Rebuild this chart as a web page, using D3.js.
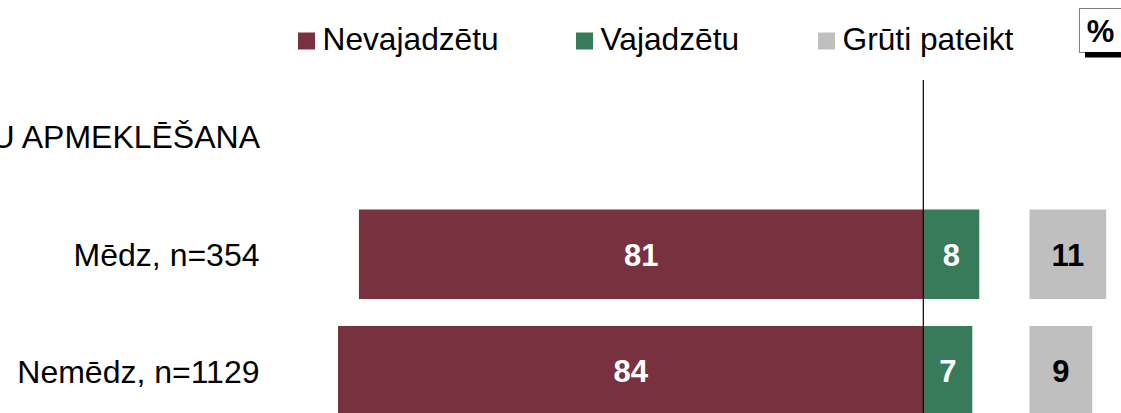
<!DOCTYPE html>
<html>
<head>
<meta charset="utf-8">
<script src="https://cdn.jsdelivr.net/npm/d3@7/dist/d3.min.js"></script>
<style>
  html, body { margin: 0; padding: 0; background: #fff; }
  svg { display: block; font-family: "Liberation Sans", Arial, sans-serif; }
</style>
</head>
<body>
<svg id="chart" width="1121" height="413"></svg>
<script>
// Survey answers by group (percent)
const groupTitle = "U APMEKLĒŠANA";
const categories = ["Mēdz, n=354", "Nemēdz, n=1129"];
const seriesNames = ["Nevajadzētu", "Vajadzētu", "Grūti pateikt"];
const nevajadzetu = [81, 84];
const vajadzetu = [8, 7];
const grutiPateikt = [11, 9];
const unitLabel = "%";

const colors = { neg: "#78323F", pos: "#387B5A", dk: "#BFBFBF" };

const svg = d3.select("#chart");
const W = 1121, H = 413;

// Horizontal scales: diverging part around the zero line, separate panel for "hard to say"
const pxPerUnit = 6.97;
const zeroX = 923.5;
const x = d3.scaleLinear().domain([-100, 100]).range([zeroX - 100 * pxPerUnit, zeroX + 100 * pxPerUnit]);
const dkStart = 1029.5;
const xDk = d3.scaleLinear().domain([0, 100]).range([dkStart, dkStart + 100 * pxPerUnit]);

// Vertical band scale for rows
const y = d3.scaleBand().domain(categories).range([209.5, 415.5]).paddingInner(0.2318).paddingOuter(0);

const rows = categories.map((c, i) => ({
  cat: c, neg: nevajadzetu[i], pos: vajadzetu[i], dk: grutiPateikt[i]
}));

// Bars
const g = svg.append("g");
g.selectAll("rect.neg").data(rows).join("rect")
  .attr("class", "neg")
  .attr("x", d => x(-d.neg)).attr("width", d => x(0) - x(-d.neg))
  .attr("y", d => y(d.cat)).attr("height", y.bandwidth())
  .attr("fill", colors.neg);
g.selectAll("rect.pos").data(rows).join("rect")
  .attr("class", "pos")
  .attr("x", x(0)).attr("width", d => x(d.pos) - x(0))
  .attr("y", d => y(d.cat)).attr("height", y.bandwidth())
  .attr("fill", colors.pos);
g.selectAll("rect.dk").data(rows).join("rect")
  .attr("class", "dk")
  .attr("x", xDk(0)).attr("width", d => xDk(d.dk) - xDk(0))
  .attr("y", d => y(d.cat)).attr("height", y.bandwidth())
  .attr("fill", colors.dk);

// Value labels
const labelDy = 11.5;
function addValues(cls, getX, getV, fill) {
  g.selectAll("text." + cls).data(rows).join("text")
    .attr("class", cls)
    .attr("x", getX).attr("y", d => y(d.cat) + y.bandwidth() / 2 + labelDy)
    .attr("text-anchor", "middle")
    .attr("font-size", "31px").attr("font-weight", "bold")
    .attr("fill", fill)
    .text(getV);
}
addValues("vneg", d => (x(-d.neg) + x(0)) / 2, d => d.neg, "#fff");
addValues("vpos", d => (x(0) + x(d.pos)) / 2, d => d.pos, "#fff");
addValues("vdk", d => (xDk(0) + xDk(d.dk)) / 2, d => d.dk, "#000");

// Zero line
svg.append("line")
  .attr("x1", x(0) - 0.2).attr("x2", x(0) - 0.2)
  .attr("y1", 80).attr("y2", H)
  .attr("stroke", "#000").attr("stroke-width", 1.2);

// Category labels
svg.selectAll("text.cat").data(rows).join("text")
  .attr("class", "cat")
  .attr("x", 259.5).attr("y", d => y(d.cat) + y.bandwidth() / 2 + 12)
  .attr("text-anchor", "end").attr("font-size", "32px").attr("fill", "#000")
  .text(d => d.cat);

// Group title
svg.append("text")
  .attr("x", 260).attr("y", 147.5)
  .attr("text-anchor", "end").attr("font-size", "32px").attr("fill", "#000")
  .text(groupTitle);

// Legend
const legendX = [298, 576, 818];
const legendColors = [colors.neg, colors.pos, colors.dk];
const leg = svg.selectAll("g.leg").data(seriesNames).join("g")
  .attr("class", "leg")
  .attr("transform", (d, i) => `translate(${legendX[i]},0)`);
leg.append("rect")
  .attr("x", 0).attr("y", 32.5).attr("width", 17).attr("height", 17)
  .attr("fill", (d, i) => legendColors[i]);
leg.append("text")
  .attr("x", 24.5).attr("y", 50)
  .attr("font-size", "31.7px").attr("fill", "#000")
  .text(d => d);

// Unit box
svg.append("rect")
  .attr("x", 1079.5).attr("y", 8.5).attr("width", 60).attr("height", 44)
  .attr("fill", "#fff").attr("stroke", "#808080").attr("stroke-width", 1);
svg.append("rect")
  .attr("x", 1085).attr("y", 52).attr("width", 60).attr("height", 5.5)
  .attr("fill", "#000");
svg.append("text")
  .attr("x", 1100.5).attr("y", 42)
  .attr("text-anchor", "middle").attr("font-size", "31px").attr("font-weight", "bold")
  .attr("fill", "#000")
  .text(unitLabel);
</script>
</body>
</html>
